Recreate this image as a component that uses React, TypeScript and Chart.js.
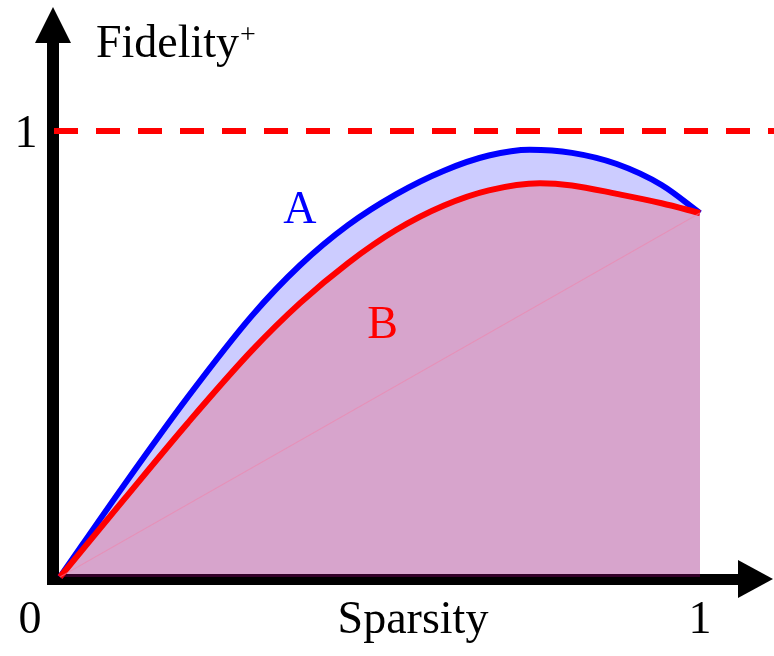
import React, { useEffect, useRef } from "react";
import { Chart, registerables } from "chart.js";

Chart.register(...registerables);

// Sparsity (x) values and Fidelity+ (y) values for curve A (blue)
const curveAX = [0, 0.1, 0.2, 0.3, 0.375, 0.45, 0.525, 0.6, 0.67, 0.734, 0.8, 0.87, 0.94, 1.0];
const curveAY = [0, 0.206, 0.404, 0.586, 0.699, 0.789, 0.858, 0.911, 0.945, 0.958, 0.951, 0.926, 0.879, 0.816];

// curve B (red)
const curveBX = [0, 0.1, 0.2, 0.3, 0.375, 0.45, 0.525, 0.6, 0.67, 0.75, 0.8, 0.87, 0.94, 1.0];
const curveBY = [0, 0.174, 0.346, 0.508, 0.614, 0.704, 0.778, 0.833, 0.867, 0.883, 0.878, 0.859, 0.838, 0.816];

// faint chord from origin to the curve end
const chordX = [0, 1.0];
const chordY = [0, 0.816];

const xTickValues = [0, 1];
const xTickLabels = ["0", "1"];
const yTickValues = [1];
const yTickLabels = ["1"];
const referenceValue = 1;

const xTitle = "Sparsity";
const yTitle = "Fidelity";
const yTitleSup = "+";
const labelA = { text: "A", x: 0.349, y: 0.793 };
const labelB = { text: "B", x: 0.48, y: 0.535 };

const FONT = '"Liberation Serif", "DejaVu Serif", serif';

const toPoints = (xs: number[], ys: number[]) => xs.map((x, i) => ({ x, y: ys[i] }));

const axesPlugin = {
  id: "axesPlugin",
  beforeDatasetsDraw(chart: any) {
    const ctx = chart.ctx;
    const xs = chart.scales.x;
    const ys = chart.scales.y;
    const x0 = xs.getPixelForValue(0);
    const y0 = ys.getPixelForValue(0);
    ctx.save();
    ctx.fillStyle = "#000";
    // y axis bar
    ctx.fillRect(x0 - 13, 40, 12, y0 + 8 - 40);
    // y arrow
    ctx.beginPath();
    ctx.moveTo(x0 - 7, 7);
    ctx.lineTo(x0 - 25, 43);
    ctx.lineTo(x0 + 11, 43);
    ctx.closePath();
    ctx.fill();
    // x axis bar
    ctx.fillRect(x0 - 8, y0 - 3, 740 - (x0 - 8), 11);
    // x arrow
    ctx.beginPath();
    ctx.moveTo(773, y0 + 2);
    ctx.lineTo(738, y0 - 17);
    ctx.lineTo(738, y0 + 21);
    ctx.closePath();
    ctx.fill();
    ctx.restore();
  },
  afterDatasetsDraw(chart: any) {
    const ctx = chart.ctx;
    const xs = chart.scales.x;
    const ys = chart.scales.y;
    const x0 = xs.getPixelForValue(0);
    const yr = ys.getPixelForValue(referenceValue);
    ctx.save();
    ctx.strokeStyle = "#ff0000";
    ctx.lineWidth = 6;
    ctx.lineCap = "butt";
    ctx.setLineDash([24, 18]);
    ctx.beginPath();
    ctx.moveTo(x0 - 6, yr);
    ctx.lineTo(chart.width, yr);
    ctx.stroke();
    ctx.restore();
  },
  afterDraw(chart: any) {
    const ctx = chart.ctx;
    const xs = chart.scales.x;
    const ys = chart.scales.y;
    const y0 = ys.getPixelForValue(0);
    ctx.save();
    ctx.font = `46px ${FONT}`;
    ctx.fillStyle = "#000";
    ctx.textBaseline = "alphabetic";
    // x ticks
    ctx.textAlign = "center";
    xTickValues.forEach((v, i) => {
      const px = xs.getPixelForValue(v);
      const off = v === 0 ? -30 : 0;
      ctx.fillText(xTickLabels[i], px + off, y0 + 56);
    });
    // y ticks
    ctx.textAlign = "center";
    yTickValues.forEach((v, i) => {
      const py = ys.getPixelForValue(v);
      ctx.fillText(yTickLabels[i], 26, py + 16);
    });
    // x title
    ctx.fillText(xTitle, 413, y0 + 56);
    // y title
    ctx.textAlign = "left";
    ctx.fillText(yTitle, 96, 57);
    const w = ctx.measureText(yTitle).width;
    ctx.font = `28px ${FONT}`;
    ctx.fillText(yTitleSup, 96 + w + 1, 43);
    // A / B labels
    ctx.font = `46px ${FONT}`;
    ctx.textAlign = "left";
    ctx.fillStyle = "#0000ff";
    ctx.fillText(labelA.text, xs.getPixelForValue(labelA.x), ys.getPixelForValue(labelA.y));
    ctx.fillStyle = "#ff0000";
    ctx.fillText(labelB.text, xs.getPixelForValue(labelB.x), ys.getPixelForValue(labelB.y));
    ctx.restore();
  },
};

export default function App() {
  const ref = useRef<HTMLCanvasElement | null>(null);
  useEffect(() => {
    if (!ref.current) return;
    const chart = new Chart(ref.current, {
      type: "line",
      data: {
        datasets: [
          {
            label: "chord",
            data: toPoints(chordX, chordY),
            borderColor: "rgba(240,130,170,0.55)",
            borderWidth: 1.2,
            pointRadius: 0,
            fill: false,
            order: 1,
            clip: false,
          } as any,
          {
            label: "B",
            data: toPoints(curveBX, curveBY),
            borderColor: "#ff0000",
            backgroundColor: "rgba(255,0,0,0.2)",
            borderWidth: 6,
            pointRadius: 0,
            fill: "origin",
            cubicInterpolationMode: "monotone",
            order: 2,
            clip: false,
          } as any,
          {
            label: "A",
            data: toPoints(curveAX, curveAY),
            borderColor: "#0000ff",
            backgroundColor: "rgba(0,0,255,0.2)",
            borderWidth: 6,
            pointRadius: 0,
            fill: "origin",
            cubicInterpolationMode: "monotone",
            order: 3,
            clip: false,
          } as any,
        ],
      },
      options: {
        responsive: false,
        animation: false,
        layout: { padding: { left: 60, right: 74, top: 131, bottom: 79 } },
        plugins: { legend: { display: false }, tooltip: { enabled: false } },
        scales: {
          x: { type: "linear", min: 0, max: 1, display: false },
          y: { type: "linear", min: 0, max: 1, display: false },
        },
      },
      plugins: [axesPlugin],
    });
    return () => chart.destroy();
  }, []);
  return (
    <div style={{ position: "fixed", left: 0, top: 0, width: 774, height: 656, background: "#fff" }}>
      <canvas ref={ref} width={774} height={656} style={{ width: 774, height: 656, display: "block" }} />
    </div>
  );
}
